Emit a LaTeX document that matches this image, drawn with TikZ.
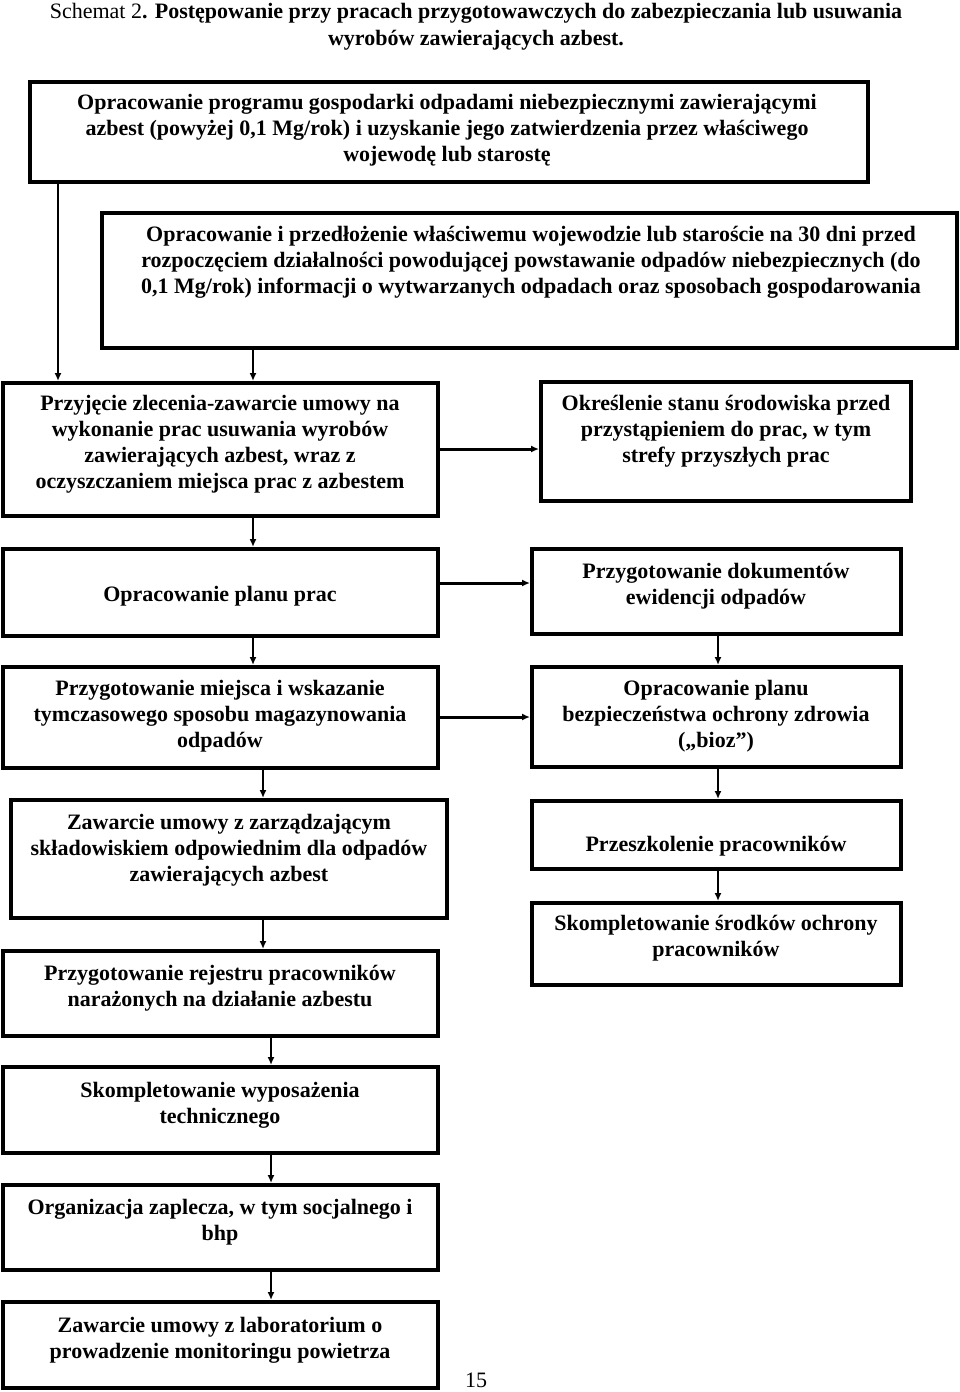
\documentclass[tikz,border=0pt]{standalone}
\usepackage{fontspec}
\setmainfont{Liberation Serif}
\usetikzlibrary{arrows.meta}
\begin{document}
\begin{tikzpicture}[x=1pt,y=-1pt,
  box/.style={draw=black,line width=4pt,rectangle,inner sep=0pt,fill=white},
  txt/.style={align=center,inner sep=0pt,font=\bfseries\fontsize{22}{26}\selectfont},
  varr/.style={line width=2.5pt,-{Latex[length=8pt,width=7pt]}},
  harr/.style={line width=3pt,-{Latex[length=8pt,width=7pt]}}]
\useasboundingbox (0,0) rectangle (960,1392);
% title
\node[align=center,inner sep=0pt,font=\fontsize{22}{27}\selectfont] (title) at (476,26.5)
  {Schemat 2\textbf{. Postępowanie przy pracach przygotowawczych do zabezpieczania lub usuwania}\\\textbf{wyrobów zawierających azbest.}};
% boxes
\node[box,minimum width=838pt,minimum height=100pt] (b1) at (449,132) {};
\node[box,minimum width=855pt,minimum height=135pt] (b2) at (529.5,280.5) {};
\node[box,minimum width=435pt,minimum height=133pt] (b3) at (220.5,449.5) {};
\node[box,minimum width=370pt,minimum height=119pt] (b4) at (726,441.5) {};
\node[box,minimum width=435pt,minimum height=87pt] (b5) at (220.5,592.5) {};
\node[box,minimum width=369pt,minimum height=85pt] (b6) at (716.5,591.5) {};
\node[box,minimum width=435pt,minimum height=101pt] (b7) at (220.5,717.5) {};
\node[box,minimum width=369pt,minimum height=100pt] (b8) at (716.5,717) {};
\node[box,minimum width=436pt,minimum height=118pt] (b9) at (229,859) {};
\node[box,minimum width=369pt,minimum height=68pt] (b10) at (716.5,835) {};
\node[box,minimum width=369pt,minimum height=82pt] (b11) at (716.5,944) {};
\node[box,minimum width=435pt,minimum height=85pt] (b12) at (220.5,993.5) {};
\node[box,minimum width=435pt,minimum height=86pt] (b13) at (220.5,1110) {};
\node[box,minimum width=435pt,minimum height=85pt] (b14) at (220.5,1227.5) {};
\node[box,minimum width=435pt,minimum height=86pt] (b15) at (220.5,1345) {};
% texts
\node[txt] (t1) at (447,130) {Opracowanie programu gospodarki odpadami niebezpiecznymi zawierającymi\\azbest (powyżej 0,1 Mg/rok) i uzyskanie jego zatwierdzenia przez właściwego\\wojewodę lub starostę};
\node[txt] (t2) at (531,262) {Opracowanie i przedłożenie właściwemu wojewodzie lub staroście na 30 dni przed\\rozpoczęciem działalności powodującej powstawanie odpadów niebezpiecznych (do\\0,1 Mg/rok) informacji o wytwarzanych odpadach oraz sposobach gospodarowania};
\node[txt] (t3) at (220,444.5) {Przyjęcie zlecenia-zawarcie umowy na\\wykonanie prac usuwania wyrobów\\zawierających azbest, wraz z\\oczyszczaniem miejsca prac z azbestem};
\node[txt] (t4) at (726,431.5) {Określenie stanu środowiska przed\\przystąpieniem do prac, w tym\\strefy przyszłych prac};
\node[txt] (t5) at (220,596) {Opracowanie planu prac};
\node[txt] (t6) at (716,586.5) {Przygotowanie dokumentów\\ewidencji odpadów};
\node[txt] (t7) at (220,716) {Przygotowanie miejsca i wskazanie\\tymczasowego sposobu magazynowania\\odpadów};
\node[txt] (t8) at (716,716) {Opracowanie planu\\bezpieczeństwa ochrony zdrowia\\(„bioz”)};
\node[txt] (t9) at (229,850) {Zawarcie umowy z zarządzającym\\składowiskiem odpowiednim dla odpadów\\zawierających azbest};
\node[txt] (t10) at (716,846) {Przeszkolenie pracowników};
\node[txt] (t11) at (716,938) {Skompletowanie środków ochrony\\pracowników};
\node[txt] (t12) at (220,988.5) {Przygotowanie rejestru pracowników\\narażonych na działanie azbestu};
\node[txt] (t13) at (220,1105) {Skompletowanie wyposażenia\\technicznego};
\node[txt] (t14) at (220,1222.5) {Organizacja zaplecza, w tym socjalnego i\\bhp};
\node[txt] (t15) at (220,1340) {Zawarcie umowy z laboratorium o\\prowadzenie monitoringu powietrza};
\node[inner sep=0pt,font=\fontsize{22}{26}\selectfont] (pg) at (476,1380) {15};
% connector guides
\coordinate (xA) at (58,0);
\coordinate (xB) at (253,0);
\coordinate (xC) at (718,0);
\coordinate (xD) at (263,0);
\coordinate (xE) at (271,0);
\coordinate (yA) at (0,449);
\coordinate (yB) at (0,583);
\coordinate (yC) at (0,717);
% connectors
\draw[varr] (b1.south -| xA) -- (b3.north -| xA);
\draw[varr] (b2.south -| xB) -- (b3.north -| xB);
\draw[harr] (b3.east |- yA) -- (b4.west |- yA);
\draw[varr] (b3.south -| xB) -- (b5.north -| xB);
\draw[harr] (b5.east |- yB) -- (b6.west |- yB);
\draw[varr] (b5.south -| xB) -- (b7.north -| xB);
\draw[varr] (b6.south -| xC) -- (b8.north -| xC);
\draw[harr] (b7.east |- yC) -- (b8.west |- yC);
\draw[varr] (b7.south -| xD) -- (b9.north -| xD);
\draw[varr] (b8.south -| xC) -- (b10.north -| xC);
\draw[varr] (b10.south -| xC) -- (b11.north -| xC);
\draw[varr] (b9.south -| xD) -- (b12.north -| xD);
\draw[varr] (b12.south -| xE) -- (b13.north -| xE);
\draw[varr] (b13.south -| xE) -- (b14.north -| xE);
\draw[varr] (b14.south -| xE) -- (b15.north -| xE);
\end{tikzpicture}
\end{document}
